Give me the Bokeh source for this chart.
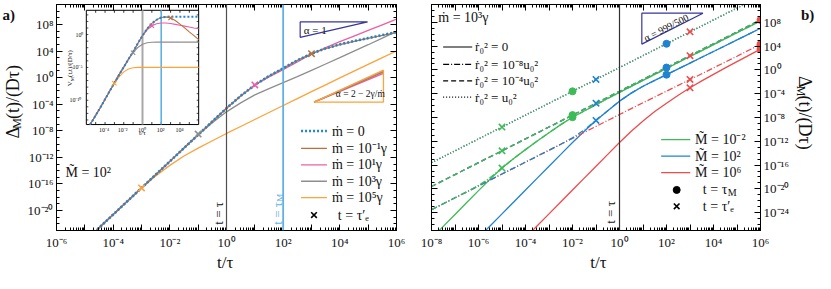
import math
import unicodedata
from bokeh.plotting import figure
from bokeh.layouts import row, column
from bokeh.models import (LogAxis, FixedTicker, Label, Range1d, LogScale, Span,
                          CustomJSTickFormatter)
from bokeh.embed import file_html
from bokeh.resources import INLINE

FONT = "Liberation Serif"
INK = "#111111"

C_M0 = "#1f86cf"
C_BROWN = "#b8703e"
C_PINK = "#ec5fa6"
C_GREY = "#8e8e8e"
C_ORANGE = "#fca33b"
C_TAUM = "#5fb0e3"
C_NAVY = "#36369c"
C_GREEN = "#3dbb57"
C_BLUE = "#1f83d0"
C_RED = "#ef4b4b"

# ---------------- panel a) : log10[Delta_M/(D tau)] vs log10(t/tau), M~ = 1e2 ----------------
A_LOG_T = [-6, -5, -4, -3, -2.5, -2, -1.5, -1, -0.5, 0, 0.5, 1, 1.5, 2, 2.5, 3, 3.5, 4, 4.5, 5, 5.5, 6]
A_MDOT_0 = [-28.6, -24.6, -20.6, -16.6, -14.6, -12.6, -10.6, -8.6, -6.6, -4.6, -2.75, -1.1, 0.25, 1.4, 2.6, 3.6, 4.4, 5.0, 5.5, 5.95, 6.4, 6.85]
A_MDOT_EM1 = [-28.6, -24.6, -20.6, -16.6, -14.6, -12.6, -10.6, -8.6, -6.6, -4.6, -2.75, -1.1, 0.25, 1.4, 2.6, 3.6, 4.38, 4.97, 5.46, 5.9, 6.34, 6.78]
A_MDOT_E1 = [-28.6, -24.6, -20.6, -16.6, -14.6, -12.6, -10.6, -8.6, -6.6, -4.6, -2.75, -1.1, 0.1, 1.2, 2.35, 3.55, 4.5, 5.4, 6.25, 7.1, 7.95, 8.8]
A_MDOT_E3 = [-28.6, -24.6, -20.6, -16.6, -14.6, -12.6, -10.6, -8.6, -6.8, -5.15, -3.8, -2.6, -1.65, -0.75, 0.15, 1.1, 2.05, 3.0, 3.98, 4.95, 5.95, 6.95]
A_MDOT_E5 = [-28.6, -24.6, -20.6, -16.6, -14.8, -13.2, -11.8, -10.6, -9.5, -8.4, -7.35, -6.3, -5.25, -4.2, -3.15, -2.1, -1.08, -0.05, 0.97, 1.98, 3.0, 4.0]

A_TAUE_LOG_T = [3, 1, -1, -3]
A_TAUE_LOG_V = [3.6, -1.1, -8.5, -16.6]
A_TAUE_COL = [C_BROWN, C_PINK, C_GREY, C_ORANGE]

A_LEGEND = ["ṁ = 0", "ṁ = 10⁻¹γ", "ṁ = 10¹γ", "ṁ = 10³γ", "ṁ = 10⁵γ"]

# slope triangles (log10 coordinates)
TRI1_LOG_T = [2.6, 4.98, 2.6]
TRI1_LOG_V = [8.38, 8.38, 6.06]
TRI2_LOG_T = [3.09, 5.54, 5.54]
TRI2_LOG_V = [-3.68, -3.68, 1.12]
TRI2_FAN_END = [0.65, 0.85, 1.0]
TRI2_FAN_COL = [C_PINK, C_BROWN, C_GREY]

# ---------------- inset : log10[V_M(t,t)/(D/tau)] ----------------
I_LOG_T = [-5.6, -5, -4.5, -4, -3.5, -3, -2.5, -2, -1.5, -1, -0.5, 0, 0.5, 1, 1.5, 2, 2.5, 3, 3.5, 4, 4.5, 5, 5.5, 6]
I_MDOT_0 = [-13.7, -12.3, -11.1, -9.85, -8.6, -7.35, -6.1, -4.95, -3.75, -2.6, -1.35, -0.15, 0.9, 1.7, 2.25, 2.6, 2.7, 2.7, 2.7, 2.7, 2.7, 2.7, 2.7, 2.7]
I_MDOT_EM1 = [-13.7, -12.3, -11.1, -9.85, -8.6, -7.35, -6.1, -4.95, -3.75, -2.6, -1.35, -0.15, 0.9, 1.7, 2.25, 2.6, 2.7, 2.52, 2.14, 1.59, 1.03, 0.41, -0.15, -0.78]
I_MDOT_E1 = [-13.7, -12.3, -11.1, -9.85, -8.6, -7.35, -6.1, -4.95, -3.75, -2.6, -1.35, -0.15, 0.72, 1.34, 1.65, 1.77, 1.77, 1.69, 1.56, 1.42, 1.29, 1.15, 1.01, 0.88]
I_MDOT_E3 = [-13.7, -12.3, -11.1, -9.85, -8.6, -7.35, -6.1, -4.95, -3.75, -2.76, -1.96, -1.46, -1.25, -1.17, -1.15, -1.15, -1.15, -1.15, -1.15, -1.15, -1.15, -1.15, -1.15, -1.15]
I_MDOT_E5 = [-13.7, -12.3, -11.1, -9.85, -8.6, -7.42, -6.43, -5.68, -5.25, -5.06, -5.0, -5.0, -5.0, -5.0, -5.0, -5.0, -5.0, -5.0, -5.0, -5.0, -5.0, -5.0, -5.0, -5.0]
I_TAUE_LOG_T = [3, 1, -1, -3]
I_TAUE_LOG_V = [2.52, 1.34, -2.76, -7.42]

# ---------------- panel b) : m_dot = 1e3 gamma ----------------
B_LOG_T = [-8, -7.5, -7, -6.5, -6, -5.5, -5, -4.5, -4, -3.5, -3, -2.5, -2, -1.5, -1, -0.5, 0, 0.5, 1, 1.5, 2, 2.5, 3, 3.5, 4, 4.5, 5, 5.5, 6]
# r0^2 = u0^2 (dotted) and r0^2 = 1e-4 u0^2 (dashed): the three masses coincide
B_DOTTED = [-15.6, -14.6, -13.6, -12.6, -11.6, -10.6, -9.6, -8.6, -7.6, -6.6, -5.6, -4.6, -3.6, -2.6, -1.6, -0.6, 0.4, 1.4, 2.4, 3.4, 4.4, 5.4, 6.4, 7.4, 8.4, 9.4, 10.4, 11.4, 12.4]
B_DASHED = [-19.6, -18.6, -17.6, -16.6, -15.6, -14.6, -13.6, -12.6, -11.6, -10.6, -9.6, -8.6, -7.6, -6.6, -5.6, -4.6, -3.6, -2.6, -1.6, -0.6, 0.4, 1.4, 2.4, 3.4, 4.4, 5.4, 6.4, 7.4, 8.4]
B_GREEN_SOLID = [-28.3, -26.3, -24.3, -22.3, -20.3, -18.35, -16.5, -14.9, -13.4, -11.95, -10.55, -9.2, -7.95, -6.9, -5.85, -4.8, -3.78, -2.76, -1.75, -0.75, 0.25, 1.25, 2.25, 3.25, 4.25, 5.25, 6.25, 7.25, 8.25]
B_GREEN_DASHDOT = [-23.5, -22.5, -21.5, -20.5, -19.45, -18.1, -16.45, -14.88, -13.4, -11.95, -10.55, -9.2, -7.95, -6.9, -5.85, -4.8, -3.78, -2.76, -1.75, -0.75, 0.25, 1.25, 2.25, 3.25, 4.25, 5.25, 6.25, 7.25, 8.25]
B_BLUE_SOLID = [-36.2, -34.2, -32.2, -30.2, -28.2, -26.2, -24.2, -22.2, -20.2, -18.2, -16.2, -14.2, -12.2, -10.3, -8.5, -6.85, -5.25, -3.9, -2.75, -1.75, -0.8, 0.18, 1.15, 2.13, 3.1, 4.07, 5.05, 6.02, 7.0]
B_BLUE_DASHDOT = [-23.5, -22.5, -21.5, -20.5, -19.5, -18.5, -17.5, -16.5, -15.5, -14.5, -13.5, -12.5, -11.42, -10.09, -8.46, -6.85, -5.25, -3.9, -2.75, -1.75, -0.8, 0.18, 1.15, 2.13, 3.1, 4.07, 5.05, 6.02, 7.0]
B_RED_SOLID = [-44.2, -42.2, -40.2, -38.2, -36.2, -34.2, -32.2, -30.2, -28.2, -26.2, -24.2, -22.2, -20.2, -18.2, -16.2, -14.2, -12.2, -10.3, -8.6, -7.0, -5.6, -4.25, -3.0, -1.85, -0.75, 0.35, 1.4, 2.45, 3.5]
B_RED_DASHDOT = [-23.5, -22.5, -21.5, -20.5, -19.5, -18.5, -17.5, -16.5, -15.5, -14.5, -13.5, -12.5, -11.5, -10.5, -9.5, -8.5, -7.5, -6.5, -5.52, -4.55, -3.57, -2.6, -1.62, -0.65, 0.33, 1.32, 2.3, 3.3, 4.3]

B_TAUM_LOG_T = [-2, -2, -2, 2, 2, 2, 6, 6, 6]
B_TAUM_LOG_V = [-3.6, -7.6, -7.95, 4.4, 0.4, -0.8, 8.4, 4.3, 3.5]
B_TAUM_COL = [C_GREEN] * 3 + [C_BLUE] * 3 + [C_RED] * 3
B_TAUE_LOG_T = [-5, -5, -5, -1, -1, -1, 3, 3, 3, 3]
B_TAUE_LOG_V = [-9.6, -13.6, -16.5, -1.6, -5.6, -8.5, 6.4, 2.4, -1.6, -3.0]
B_TAUE_COL = [C_GREEN] * 3 + [C_BLUE] * 3 + [C_RED] * 4

B_STYLE_LEGEND = ["ṙ₀² = 0", "ṙ₀² = 10⁻⁸u₀²", "ṙ₀² = 10⁻⁴u₀²", "ṙ₀² = u₀²"]
B_MASS_LEGEND = ["M̃ = 10⁻²", "M̃ = 10²", "M̃ = 10⁶"]

TRI3_LOG_T = [0.95, 3.55, 0.95]
TRI3_LOG_V = [9.54, 9.54, 4.34]

DASH_DOT = "6 2 1 2"
DASHED = "5 3"
DOTTED = "1 2"


def pw(a):
    return [10.0 ** v for v in a]


# ---------------- layout geometry (page pixels) ----------------
SL_W = 24            # left strip (a) + y label)
SR_W = 23            # right strip (b) + y label)
TOP_H = 252          # height of the plot row
BOT_H = 21           # bottom strip (x labels)
A_FX0, A_FX1 = 54, 396
B_FX0, B_FX1 = 431, 761
FY0, FY1 = 4, 232
A_X = SL_W
A_W = 410 - SL_W
B_X = 410
B_W = 815 - SR_W - B_X
SR_X = B_X + B_W


def frame_map(fx0, fx1, lx0, lx1, ly0, ly1):
    def f(sx, sy):
        return (10 ** (lx0 + (lx1 - lx0) * (sx - fx0) / (fx1 - fx0)),
                10 ** (ly1 - (ly1 - ly0) * (sy - FY0) / (FY1 - FY0)))
    return f


MAP_A = frame_map(A_FX0, A_FX1, -6, 6, -23, 11)
MAP_B = frame_map(B_FX0, B_FX1, -8, 6, -27, 11)
VS = (FY1 - FY0) / 234


def ref_a(rx, ry):
    return rx, FY0 + (ry - 4) * VS


def ref_b(rx, ry):
    return B_FX0 + (rx - 433) * (B_FX1 - B_FX0) / 339.5, FY0 + (ry - 4) * VS


CHAR_W = {"Δ": 0.61, "M": 0.89, "(": 0.333, ")": 0.333, "t": 0.278, "/": 0.278,
          "D": 0.722, "τ": 0.44, " ": 0.25, "=": 0.564, "V": 0.722, ",": 0.25}


def tw(s, size):
    return size * sum(CHAR_W.get(c, 0.5) for c in s if not unicodedata.combining(c))


def put(p, M, sx, sy, parts, angle=0.0, align="left", color=INK, style="normal"):
    total = sum(tw(t, s) for t, s, _ in parts)
    pos = {"left": 0.0, "center": -total / 2, "right": -total}[align]
    ca, sa = math.cos(angle), math.sin(angle)
    for t, s, dy in parts:
        ox = pos * ca + dy * sa
        oy = -pos * sa + dy * ca
        x, y = M(sx + ox, sy + oy)
        p.add_layout(Label(x=x, y=y, text=t, angle=angle, text_font=FONT,
                           text_font_size=f"{s}px", text_color=color,
                           text_align="left", text_baseline="middle",
                           text_font_style=style))
        pos += tw(t, s)


def hline(p, M, sx0, sx1, sy, **kw):
    x0, y = M(sx0, sy)
    x1, _ = M(sx1, sy)
    p.line([x0, x1], [y, y], **kw)


def ticks_every(lo, hi, step):
    return [10.0 ** k for k in range(lo, hi + 1, step)]


def sub_decades(lo, hi):
    return [m * 10.0 ** k for k in range(lo, hi) for m in range(2, 10)]


def sup_formatter(step):
    return CustomJSTickFormatter(args=dict(step=step), code="""
        const k = Math.round(Math.log10(tick));
        if (k % step !== 0) { return ""; }
        const m = {"0":"\u2070","1":"\u00b9","2":"\u00b2","3":"\u00b3","4":"\u2074","5":"\u2075","6":"\u2076","7":"\u2077","8":"\u2078","9":"\u2079","-":"\u207b"};
        let s = "";
        for (const c of String(k)) { s += m[c]; }
        return "10" + s;
    """)


def style_axis(ax, show, standoff):
    ax.axis_line_color = "black"
    ax.axis_line_width = 1
    ax.major_tick_line_color = "black"
    ax.minor_tick_line_color = "black"
    ax.major_tick_in = 6
    ax.major_tick_out = 0
    ax.minor_tick_in = 3
    ax.minor_tick_out = 0
    ax.major_label_text_font = FONT
    ax.major_label_text_color = INK
    ax.major_label_text_font_size = "13px" if show else "0px"
    ax.major_label_standoff = standoff if show else 0
    ax.axis_label = None


def mirror(p, place, ticker):
    ax = LogAxis(ticker=ticker, formatter=CustomJSTickFormatter(code="return '';"))
    style_axis(ax, False, 0)
    p.add_layout(ax, place)


def strip(w, h, px, py):
    s = figure(width=w, height=h, x_range=Range1d(0, w), y_range=Range1d(h, 0),
               x_axis_location=None, y_axis_location=None,
               output_backend="svg", toolbar_location=None,
               min_border_left=0, min_border_right=0, min_border_top=0, min_border_bottom=0,
               outline_line_color=None, background_fill_color="white",
               border_fill_color="white")
    s.grid.visible = False
    return s, (lambda sx, sy: (sx - px, sy - py))


# ======================= panel a =======================
pa = figure(width=A_W, height=TOP_H, x_axis_type="log", y_axis_type="log",
            x_range=Range1d(1e-6, 1e6), y_range=Range1d(1e-23, 1e11),
            output_backend="svg", toolbar_location=None,
            min_border_left=A_FX0 - A_X, min_border_right=A_X + A_W - A_FX1,
            min_border_top=FY0, min_border_bottom=TOP_H - FY1,
            background_fill_color="white", border_fill_color="white",
            outline_line_color="black")
pa.grid.visible = False
xa_t = FixedTicker(ticks=ticks_every(-6, 6, 1), minor_ticks=sub_decades(-6, 6))
ya_t = FixedTicker(ticks=ticks_every(-20, 8, 4), minor_ticks=ticks_every(-23, 11, 1))
pa.xaxis[0].ticker = xa_t
pa.xaxis[0].formatter = sup_formatter(2)
pa.yaxis[0].ticker = ya_t
pa.yaxis[0].formatter = sup_formatter(4)
style_axis(pa.xaxis[0], True, 4)
style_axis(pa.yaxis[0], True, 3)
mirror(pa, "above", xa_t)
mirror(pa, "right", ya_t)

pa.add_layout(Span(location=1, dimension="height", line_color="#505050", line_width=1.2))
pa.add_layout(Span(location=100, dimension="height", line_color=C_TAUM, line_width=1.8))

for vals, col in ((A_MDOT_E5, C_ORANGE), (A_MDOT_E3, C_GREY), (A_MDOT_E1, C_PINK), (A_MDOT_EM1, C_BROWN)):
    pa.line(pw(A_LOG_T), pw(vals), line_color=col, line_width=1.3)
pa.line(pw(A_LOG_T), pw(A_MDOT_0), line_color=C_M0, line_width=2.6, line_dash="2 2")
pa.scatter(pw(A_TAUE_LOG_T), pw(A_TAUE_LOG_V), marker="x", size=9,
           line_color=A_TAUE_COL, line_width=1.6)

pa.patch(pw(TRI1_LOG_T), pw(TRI1_LOG_V), fill_color=None, line_color=C_NAVY, line_width=1.2)
for ve, col in zip(TRI2_FAN_END, TRI2_FAN_COL):
    pa.line(pw([TRI2_LOG_T[0], TRI2_LOG_T[1]]), pw([TRI2_LOG_V[0], ve]), line_color=col, line_width=1.3)
pa.patch(pw(TRI2_LOG_T), pw(TRI2_LOG_V), fill_color=None, line_color=C_ORANGE, line_width=1.3)

# ---- inset (own log scales mapped onto the inset box) ----
I_XLO, I_XHI, I_YLO, I_YHI = -6, 6, -13.7, 3.7
IX0, IY0 = ref_a(84, 10)
IX1, IY1 = ref_a(197, 128.3)
kx = (I_XHI - I_XLO) / (IX1 - IX0)
ky = (I_YHI - I_YLO) / (IY1 - IY0)
pa.extra_x_ranges = {"ix": Range1d(10 ** (I_XLO - (IX0 - A_FX0) * kx), 10 ** (I_XHI + (A_FX1 - IX1) * kx))}
pa.extra_y_ranges = {"iy": Range1d(10 ** (I_YLO - (FY1 - IY1) * ky), 10 ** (I_YHI + (IY0 - FY0) * ky))}
pa.extra_x_scales = {"ix": LogScale()}
pa.extra_y_scales = {"iy": LogScale()}
IR = dict(x_range_name="ix", y_range_name="iy")
YB, YT = 10 ** I_YLO, 10 ** I_YHI
XL, XR = 10 ** I_XLO, 10 ** I_XHI

pa.quad(left=XL, right=XR, bottom=YB, top=YT, fill_color="white",
        line_color="black", line_width=1, **IR)
tx = [10.0 ** k for k in range(-5, 6)]
tl = 10 ** (2.5 * ky)
pa.segment(x0=tx, x1=tx, y0=[YB] * len(tx), y1=[YB * tl] * len(tx), line_color="black", line_width=0.8, **IR)
pa.segment(x0=tx, x1=tx, y0=[YT] * len(tx), y1=[YT / tl] * len(tx), line_color="black", line_width=0.8, **IR)
ty = [10.0 ** k for k in range(-13, 4)]
tlx = 10 ** (2.0 * kx)
pa.segment(x0=[XL] * len(ty), x1=[XL * tlx] * len(ty), y0=ty, y1=ty, line_color="black", line_width=0.7, **IR)
pa.segment(x0=[XR] * len(ty), x1=[XR / tlx] * len(ty), y0=ty, y1=ty, line_color="black", line_width=0.7, **IR)
pa.segment(x0=[1, 100], x1=[1, 100], y0=[YB, YB], y1=[YT, YT],
           line_color=["#a8a8a8", C_TAUM], line_width=[2.0, 1.6], **IR)
for vals, col in ((I_MDOT_E5, C_ORANGE), (I_MDOT_E3, C_GREY), (I_MDOT_E1, C_PINK), (I_MDOT_EM1, C_BROWN)):
    pa.line(pw(I_LOG_T), pw(vals), line_color=col, line_width=1.1, **IR)
pa.line(pw(I_LOG_T), pw(I_MDOT_0), line_color=C_M0, line_width=2.0, line_dash="2 2", **IR)
pa.scatter(pw(I_TAUE_LOG_T), pw(I_TAUE_LOG_V), marker="x", size=6,
           line_color=A_TAUE_COL, line_width=1.2, **IR)

for k, lab in ((-4, "10⁻⁴"), (-2, "10⁻²"), (0, "10⁰"), (2, "10²"), (4, "10⁴")):
    sx = IX0 + (k - I_XLO) / kx
    put(pa, MAP_A, sx, IY1 + 5, [(lab, 6, 0)], align="center")
for k, lab in ((0, "10⁰"), (-5, "10⁻⁵"), (-10, "10⁻¹⁰")):
    sy = IY0 + (I_YHI - k) / ky
    put(pa, MAP_A, IX0 - 2, sy, [(lab, 6, 0)], align="right")
put(pa, MAP_A, (IX0 + IX1) / 2, ref_a(0, 137)[1], [("t/τ", 7, 0)], align="center")
sx, sy = ref_a(68, 70)
put(pa, MAP_A, sx, sy, [("V", 7, 0), ("M", 5, 2), ("(t,t)/(D/τ)", 7, 0)], angle=math.pi / 2, align="center")

# ---- panel a annotations ----
sx, sy = ref_a(63, 178)
put(pa, MAP_A, sx, sy, [("M̃ = 10²", 14, 0)])
sx, sy = ref_a(217, 232)
put(pa, MAP_A, sx, sy, [("t = τ", 13, 0)], angle=math.pi / 2)
sx, sy = ref_a(276, 232)
put(pa, MAP_A, sx, sy, [("t = τ", 13, 0), ("M", 9, 3)], angle=math.pi / 2, color=C_TAUM)
sx, sy = ref_a(314, 30)
put(pa, MAP_A, sx, sy, [("α = 1", 11, 0)], align="center")
sx, sy = ref_a(358, 97)
put(pa, MAP_A, sx, sy, [("α = 2 − 2γ/ṁ", 9.5, 0)], align="center")

L_ROWS = [135, 153, 170, 187, 204]
L_COLS = [C_M0, C_BROWN, C_PINK, C_GREY, C_ORANGE]
for i, (ry, col, lab) in enumerate(zip(L_ROWS, L_COLS, A_LEGEND)):
    x0, y = ref_a(300, ry)
    x1, _ = ref_a(326, ry)
    if i == 0:
        hline(pa, MAP_A, x0, x1, y, line_color=col, line_width=2.6, line_dash="2 2")
    else:
        hline(pa, MAP_A, x0, x1, y, line_color=col, line_width=1.3)
    tx_, _ = ref_a(331, ry)
    put(pa, MAP_A, tx_, y, [(lab, 14, 0)])
mx, my = ref_a(313, 222)
px_, py_ = MAP_A(mx, my)
pa.scatter([px_], [py_], marker="x", size=8, line_color="black", line_width=1.6)
tx_, _ = ref_a(337, 222)
put(pa, MAP_A, tx_, my, [("t = τ′ₑ", 14, 0)])

# ======================= panel b =======================
pb = figure(width=B_W, height=TOP_H, x_axis_type="log", y_axis_type="log",
            y_axis_location="right",
            x_range=Range1d(1e-8, 1e6), y_range=Range1d(1e-27, 1e11),
            output_backend="svg", toolbar_location=None,
            min_border_left=B_FX0 - B_X, min_border_right=B_X + B_W - B_FX1,
            min_border_top=FY0, min_border_bottom=TOP_H - FY1,
            background_fill_color="white", border_fill_color="white",
            outline_line_color="black")
pb.grid.visible = False
xb_t = FixedTicker(ticks=ticks_every(-8, 6, 1), minor_ticks=sub_decades(-8, 6))
yb_t = FixedTicker(ticks=ticks_every(-24, 8, 4), minor_ticks=ticks_every(-27, 11, 1))
pb.xaxis[0].ticker = xb_t
pb.xaxis[0].formatter = sup_formatter(2)
pb.yaxis[0].ticker = yb_t
pb.yaxis[0].formatter = sup_formatter(4)
style_axis(pb.xaxis[0], True, 4)
style_axis(pb.yaxis[0], True, 3)
mirror(pb, "above", xb_t)
mirror(pb, "left", yb_t)

pb.add_layout(Span(location=1, dimension="height", line_color="#303030", line_width=1.2))

T = pw(B_LOG_T)
for vals, col in ((B_RED_SOLID, C_RED), (B_BLUE_SOLID, C_BLUE), (B_GREEN_SOLID, C_GREEN)):
    pb.line(T, pw(vals), line_color=col, line_width=1.3)
for vals, col in ((B_RED_DASHDOT, C_RED), (B_BLUE_DASHDOT, C_BLUE), (B_GREEN_DASHDOT, C_GREEN)):
    pb.line(T, pw(vals), line_color=col, line_width=1.3, line_dash=DASH_DOT)
for col in (C_RED, C_BLUE, C_GREEN):
    pb.line(T, pw(B_DASHED), line_color=col, line_width=1.3, line_dash=DASHED)
for col in (C_RED, C_BLUE, C_GREEN):
    pb.line(T, pw(B_DOTTED), line_color=col, line_width=1.4, line_dash=DOTTED)

pb.scatter(pw(B_TAUM_LOG_T), pw(B_TAUM_LOG_V), marker="circle", size=7,
           fill_color=B_TAUM_COL, line_color=B_TAUM_COL)
pb.scatter(pw(B_TAUE_LOG_T), pw(B_TAUE_LOG_V), marker="x", size=9,
           line_color=B_TAUE_COL, line_width=1.6)

pb.patch(pw(TRI3_LOG_T), pw(TRI3_LOG_V), fill_color=None, line_color=C_NAVY, line_width=1.2)
sx, sy = ref_b(675, 28)
put(pb, MAP_B, sx, sy, [("α = 999/500", 10, 0)], angle=math.atan2(32, 63), align="center")

sx, sy = ref_b(440, 17)
put(pb, MAP_B, sx, sy, [("ṁ = 10³γ", 14, 0)])
sx, sy = ref_b(618, 231)
put(pb, MAP_B, sx, sy, [("t = τ", 13, 0)], angle=math.pi / 2)

for ry, dash, lab in zip([48, 66, 83, 100], ["solid", DASH_DOT, DASHED, DOTTED], B_STYLE_LEGEND):
    x0, y = ref_b(445, ry)
    x1, _ = ref_b(475, ry)
    hline(pb, MAP_B, x0, x1, y, line_color="black", line_width=1.2, line_dash=dash)
    tx_, _ = ref_b(478, ry)
    put(pb, MAP_B, tx_, y, [(lab, 13, 0)])

for ry, col, lab in zip([144, 161, 178], [C_GREEN, C_BLUE, C_RED], B_MASS_LEGEND):
    x0, y = ref_b(670, ry)
    x1, _ = ref_b(700, ry)
    hline(pb, MAP_B, x0, x1, y, line_color=col, line_width=1.3)
    tx_, _ = ref_b(705, ry)
    put(pb, MAP_B, tx_, y, [(lab, 14, 0)])
mx, my = ref_b(686, 196)
px_, py_ = MAP_B(mx, my)
pb.scatter([px_], [py_], marker="circle", size=7, fill_color="black", line_color="black")
tx_, _ = ref_b(713, 196)
put(pb, MAP_B, tx_, my, [("t = τ", 14, 0), ("M", 10, 3)])
mx, my = ref_b(686, 213)
px_, py_ = MAP_B(mx, my)
pb.scatter([px_], [py_], marker="x", size=8, line_color="black", line_width=1.6)
tx_, _ = ref_b(713, 213)
put(pb, MAP_B, tx_, my, [("t = τ′ₑ", 14, 0)])

# ======================= strips for texts outside the frames =======================
sl, ML = strip(SL_W, TOP_H, 0, 0)
put(sl, ML, 2, 12, [("a)", 15, 0)], style="bold")
put(sl, ML, 12, ref_a(0, 114)[1], [("Δ", 18, 0), ("M", 12, 4), ("(t)/(Dτ)", 18, 0)],
    angle=math.pi / 2, align="center")

sr, MR = strip(SR_W, TOP_H, SR_X, 0)
put(sr, MR, 813, 12, [("b)", 15, 0)], align="right", style="bold")
put(sr, MR, SR_X + 12, ref_b(0, 121)[1], [("Δ", 18, 0), ("M", 12, 4), ("(t)/(Dτ)", 18, 0)],
    angle=-math.pi / 2, align="center")

sb, MB = strip(815, BOT_H, 0, TOP_H)
put(sb, MB, 225, TOP_H + 10, [("t/τ", 17, 0)], align="center")
put(sb, MB, ref_b(605, 0)[0], TOP_H + 10, [("t/τ", 17, 0)], align="center")

layout = column(row(sl, pa, pb, sr, spacing=0), sb, spacing=0)
open("out.html", "w").write(file_html(layout, INLINE))
